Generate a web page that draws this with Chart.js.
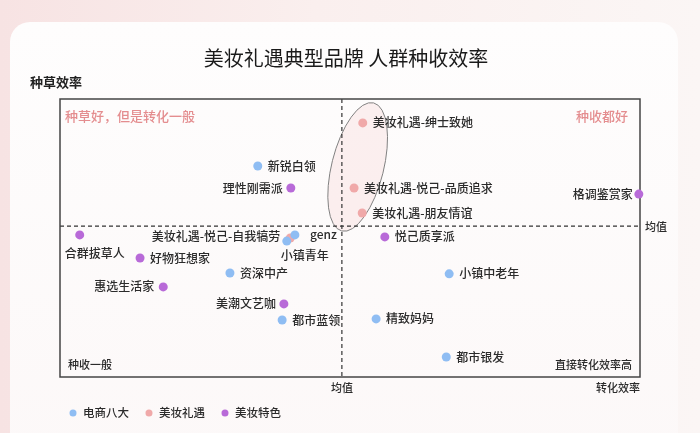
<!DOCTYPE html>
<html>
<head>
<meta charset="utf-8">
<script src="https://cdn.jsdelivr.net/npm/chart.js@4.4.1/dist/chart.umd.min.js"></script>
<style>
  html, body { margin: 0; padding: 0; width: 700px; height: 433px; overflow: hidden; }
  body {
    position: relative;
    background: linear-gradient(90deg, #f7e3e3 0%, #faefee 45%, #fbf6f5 100%);
  }
  .card {
    position: absolute; left: 10px; top: 22px; width: 668px; height: 450px;
    border-radius: 20px;
    background: linear-gradient(180deg, #fefdfd 0%, #fcf8f8 100%);
  }
  canvas { position: absolute; left: 0; top: 0; }
</style>
</head>
<body>
<div class="card"></div>
<canvas id="chart" width="700" height="433"></canvas>
<script>
// series
const seriesNames = ["电商八大", "美妆礼遇", "美妆特色"];
const seriesColors = ["#8fbdf3", "#f0a9a9", "#b86ad8"];

const ecomNames = ["新锐白领", "genz", "小镇青年", "资深中产", "都市蓝领", "小镇中老年", "精致妈妈", "都市银发"];
const ecomX = [34.1, 40.5, 39.1, 29.3, 38.3, 67.1, 54.5, 66.6];
const ecomY = [75.9, 51.1, 48.9, 37.4, 20.5, 37.1, 20.9, 7.2];

const giftNames = ["美妆礼遇-绅士致她", "美妆礼遇-悦己-品质追求", "美妆礼遇-朋友情谊", "美妆礼遇-悦己-自我犒劳"];
const giftX = [52.2, 50.7, 52.1, 39.7];
const giftY = [91.4, 68.0, 59.0, 50.0];

const specialNames = ["理性刚需派", "格调鉴赏家", "合群拔草人", "好物狂想家", "惠选生活家", "美潮文艺咖", "悦己质享派"];
const specialX = [39.8, 99.8, 3.4, 13.8, 17.8, 38.6, 56.0];
const specialY = [68.0, 65.8, 51.1, 42.8, 32.4, 26.3, 50.4];

// averages (dashed lines)
const meanX = 48.6;
const meanY = 54.3;

// label placement: [textAlign, dx, dy], default is right of the point
const labelLayout = {
  "理性刚需派": ["right", -8, 0],
  "格调鉴赏家": ["right", -6, 0],
  "合群拔草人": ["left", -15, 18],
  "惠选生活家": ["right", -9, 0],
  "美潮文艺咖": ["right", -8, 0],
  "美妆礼遇-悦己-自我犒劳": ["right", -10, -2],
  "genz": ["left", 15, -1],
  "小镇青年": ["left", -6, 14]
};

const FONT = '"Noto Sans CJK SC", "Noto Sans", sans-serif';

function toPoints(xs, ys, names) {
  return xs.map((x, i) => ({ x: x, y: ys[i], name: names[i] }));
}

const quadrantPlugin = {
  id: "quadrant",
  beforeDatasetsDraw(chart) {
    const { ctx, chartArea: a, scales } = chart;
    const mx = scales.x.getPixelForValue(meanX);
    const my = scales.y.getPixelForValue(meanY);

    ctx.save();
    // ellipse around the 美妆礼遇 group (first three points)
    const pts = chart.getDatasetMeta(1).data.slice(0, 3);
    const ys = pts.map(p => p.y);
    const cx = pts.reduce((s, p) => s + p.x, 0) / pts.length - 2;
    const cy = (Math.min(...ys) + Math.max(...ys)) / 2 - 1;
    ctx.beginPath();
    ctx.ellipse(cx, cy, 26, 66, 14 * Math.PI / 180, 0, Math.PI * 2);
    ctx.fillStyle = "rgba(246, 218, 218, 0.38)";
    ctx.fill();
    ctx.strokeStyle = "#808080";
    ctx.lineWidth = 1;
    ctx.stroke();

    // dashed mean lines
    ctx.setLineDash([4, 3]);
    ctx.strokeStyle = "#333";
    ctx.lineWidth = 1.2;
    ctx.beginPath();
    ctx.moveTo(mx, a.top);
    ctx.lineTo(mx, a.bottom);
    ctx.moveTo(a.left, my);
    ctx.lineTo(a.right, my);
    ctx.stroke();
    ctx.setLineDash([]);

    // frame
    ctx.strokeStyle = "#444";
    ctx.lineWidth = 1.5;
    ctx.strokeRect(a.left, a.top, a.right - a.left, a.bottom - a.top);
    ctx.restore();
  },
  afterDatasetsDraw(chart) {
    const { ctx, chartArea: a, scales } = chart;
    const mx = scales.x.getPixelForValue(meanX);
    const my = scales.y.getPixelForValue(meanY);
    ctx.save();
    ctx.textBaseline = "middle";

    // point labels
    ctx.fillStyle = "#2b2b2b";
    ctx.font = "500 12px " + FONT;
    chart.data.datasets.forEach((ds, di) => {
      chart.getDatasetMeta(di).data.forEach((el, i) => {
        const name = ds.data[i].name;
        const lay = labelLayout[name] || ["left", 10, 0];
        ctx.textAlign = lay[0];
        ctx.fillText(name, el.x + lay[1], el.y + lay[2]);
      });
    });

    // quadrant captions
    ctx.fillStyle = "#e48d8f";
    ctx.font = "500 13px " + FONT;
    ctx.textAlign = "left";
    ctx.fillText("种草好，但是转化一般", a.left + 5, a.top + 17);
    ctx.textAlign = "right";
    ctx.fillText("种收都好", a.right - 12, a.top + 17);

    ctx.fillStyle = "#2b2b2b";
    ctx.font = "500 11px " + FONT;
    ctx.textAlign = "left";
    ctx.fillText("种收一般", a.left + 8, a.bottom - 12);
    ctx.textAlign = "right";
    ctx.fillText("直接转化效率高", a.right - 8, a.bottom - 12);

    // axis captions
    ctx.textAlign = "left";
    ctx.fillText("均值", a.right + 5, my + 1);
    ctx.textAlign = "center";
    ctx.fillText("均值", mx, a.bottom + 11);
    ctx.textAlign = "right";
    ctx.fillText("转化效率", a.right, a.bottom + 11);

    ctx.font = "bold 13px " + FONT;
    ctx.textAlign = "left";
    ctx.fillStyle = "#222";
    ctx.fillText("种草效率", 30, 82);

    // title
    ctx.font = "400 20px " + FONT;
    ctx.textAlign = "center";
    ctx.fillStyle = "#1a1a1a";
    ctx.fillText("美妆礼遇典型品牌 人群种收效率", 346, 58);

    // legend
    ctx.font = "500 11.5px " + FONT;
    ctx.textAlign = "left";
    let lx = 73;
    seriesNames.forEach((n, i) => {
      ctx.beginPath();
      ctx.arc(lx, 413, 3.5, 0, Math.PI * 2);
      ctx.fillStyle = seriesColors[i];
      ctx.fill();
      ctx.fillStyle = "#2b2b2b";
      ctx.fillText(n, lx + 10, 413);
      lx += 10 + ctx.measureText(n).width + 20;
    });
    ctx.restore();
  }
};

new Chart(document.getElementById("chart"), {
  type: "scatter",
  data: {
    datasets: [
      { label: seriesNames[0], data: toPoints(ecomX, ecomY, ecomNames), backgroundColor: seriesColors[0] },
      { label: seriesNames[1], data: toPoints(giftX, giftY, giftNames), backgroundColor: seriesColors[1] },
      { label: seriesNames[2], data: toPoints(specialX, specialY, specialNames), backgroundColor: seriesColors[2] }
    ].map(ds => Object.assign(ds, { pointRadius: 4.5, pointBorderWidth: 0, clip: false }))
  },
  options: {
    responsive: false,
    animation: false,
    layout: { padding: { left: 60, right: 60, top: 99, bottom: 56 } },
    scales: {
      x: { display: false, min: 0, max: 100 },
      y: { display: false, min: 0, max: 100 }
    },
    plugins: {
      legend: { display: false },
      tooltip: { enabled: false }
    }
  },
  plugins: [quadrantPlugin]
});
</script>
</body>
</html>
